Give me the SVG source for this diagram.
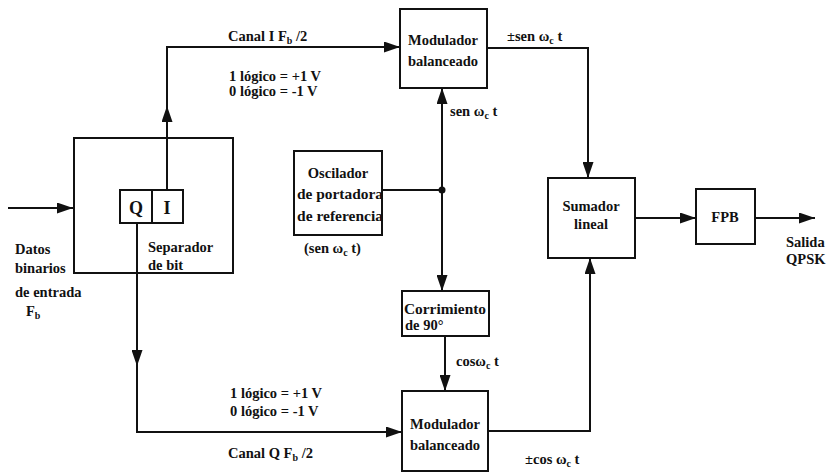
<svg xmlns="http://www.w3.org/2000/svg" width="829" height="473" viewBox="0 0 829 473">
<style>
.box{fill:none;stroke:#111;stroke-width:2}
.ln{fill:none;stroke:#111;stroke-width:2}
.arr{marker-end:url(#ah)}
text{font-family:"Liberation Serif","Times New Roman",serif;font-weight:bold;font-size:14.5px;fill:#111}
.c{text-anchor:middle}
.sub{font-size:10px}
</style>
<defs>
<marker id="ah" markerUnits="userSpaceOnUse" markerWidth="17" markerHeight="11" refX="16" refY="5.5" orient="auto">
<path d="M0,0 L16,5.5 L0,11 z" fill="#111"/>
</marker>
</defs>
<rect width="829" height="473" fill="#fff"/>
<g id="connectors">
<path class="ln arr" d="M8,208 H73"/>
<path class="ln arr" d="M167,190 V106"/>
<path class="ln arr" d="M167,108 V47 H400"/>
<path class="ln arr" d="M137,223 V366"/>
<path class="ln arr" d="M137,364 V432 H402"/>
<path class="ln" d="M382,190 H442"/>
<circle cx="442" cy="190" r="3.5" fill="#111"/>
<path class="ln arr" d="M442,190 V88"/>
<path class="ln arr" d="M442,190 V291"/>
<path class="ln arr" d="M445,336 V391"/>
<path class="ln arr" d="M487,48 H588 V178"/>
<path class="ln arr" d="M488,431 H590 V258"/>
<path class="ln arr" d="M635,218 H696"/>
<path class="ln arr" d="M755,218 H815"/>
</g>
<g id="separador">
<rect class="box" x="74" y="138" width="159" height="135"/>
<rect class="box" x="120" y="190" width="63" height="33"/>
<line class="ln" x1="152" y1="190" x2="152" y2="223"/>
<text class="c" x="136" y="214" style="font-size:18px">Q</text>
<text class="c" x="167" y="214" style="font-size:18px">I</text>
<text x="148" y="252">Separador</text>
<text x="148" y="270">de bit</text>
</g>
<g id="entrada">
<text x="15" y="254">Datos</text>
<text x="15" y="273">binarios</text>
<text x="15" y="297">de entrada</text>
<text x="26" y="316">F<tspan class="sub" dy="3">b</tspan></text>
</g>
<g id="modulador-sup">
<rect class="box" x="400" y="9" width="87" height="79"/>
<text class="c" x="443" y="45">Modulador</text>
<text class="c" x="443" y="66">balanceado</text>
</g>
<g id="oscilador">
<rect class="box" x="294" y="151" width="88" height="84"/>
<text class="c" x="338" y="178">Oscilador</text>
<text x="297" y="199" textLength="86" lengthAdjust="spacingAndGlyphs">de portadora</text>
<text x="297" y="221" textLength="86" lengthAdjust="spacingAndGlyphs">de referencia</text>
<text x="304" y="253">(sen ω<tspan class="sub" dy="3">c</tspan><tspan dy="-3"> t)</tspan></text>
</g>
<g id="corrimiento">
<rect class="box" x="402" y="291" width="87" height="45"/>
<text class="c" x="445" y="314" textLength="82" lengthAdjust="spacingAndGlyphs">Corrimiento</text>
<text x="405" y="330">de 90°</text>
</g>
<g id="modulador-inf">
<rect class="box" x="402" y="391" width="86" height="80"/>
<text class="c" x="445" y="429">Modulador</text>
<text class="c" x="445" y="450">balanceado</text>
</g>
<g id="sumador">
<rect class="box" x="548" y="178" width="87" height="80"/>
<text class="c" x="591" y="211">Sumador</text>
<text class="c" x="591" y="229">lineal</text>
</g>
<g id="fpb">
<rect class="box" x="696" y="189" width="59" height="55"/>
<text class="c" x="725" y="222">FPB</text>
</g>
<g id="labels">
<text x="228" y="41">Canal I F<tspan class="sub" dy="3">b</tspan><tspan dy="-3"> /2</tspan></text>
<text x="229" y="81">1 lógico = +1 V</text>
<text x="229" y="96">0 lógico = -1 V</text>
<text x="507" y="41">±sen ω<tspan class="sub" dy="3">c</tspan><tspan dy="-3"> t</tspan></text>
<text x="450" y="116">sen  ω<tspan class="sub" dy="3">c</tspan><tspan dy="-3"> t</tspan></text>
<text x="456" y="366">cosω<tspan class="sub" dy="3">c</tspan><tspan dy="-3"> t</tspan></text>
<text x="230" y="398">1 lógico = +1 V</text>
<text x="230" y="416">0 lógico = -1 V</text>
<text x="228" y="458">Canal Q F<tspan class="sub" dy="3">b</tspan><tspan dy="-3"> /2</tspan></text>
<text x="525" y="464">±cos ω<tspan class="sub" dy="3">c</tspan><tspan dy="-3"> t</tspan></text>
<text x="786" y="247">Salida</text>
<text x="786" y="264">QPSK</text>
</g>
</svg>
